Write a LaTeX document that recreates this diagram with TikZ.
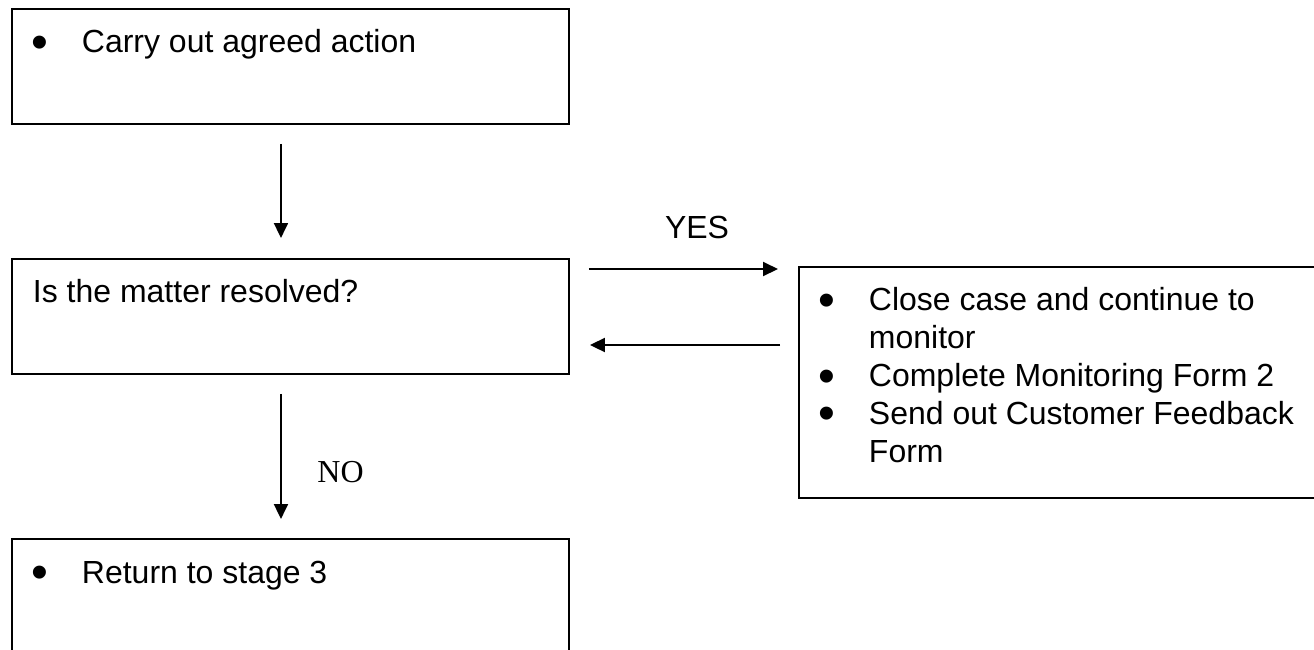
\documentclass[tikz,border=0pt]{standalone}
\usepackage{fontspec}
\setmainfont{Liberation Sans}
\newfontfamily\timesfont{Liberation Serif}
\usetikzlibrary{arrows.meta,positioning}

% box contents: fixed height, text from the top
\newcommand{\boxtext}[3]{\parbox[t][#1][t]{#2}{\fontsize{18.2}{21.6}\selectfont
  \leftskip=0.42cm\rightskip=0pt plus 1fil\parindent=0pt\vspace*{0.349cm}#3}}
\newcommand{\bigdot}{\makebox[0pt]{\smash{\raisebox{-0.16em}{\scalebox{1.5}{\textbullet}}}}}
\newcommand{\bitem}[1]{\hangindent=0.98cm\hangafter=1\noindent\strut
  \makebox[0.98cm][l]{\hspace{0.14cm}\bigdot}#1\par}

\begin{document}
\begin{tikzpicture}[
    stepbox/.style={draw,line width=1.1pt,inner sep=0pt,anchor=north west},
    answer/.style={inner sep=0pt,anchor=base,font=\fontsize{18.2}{21.6}\selectfont},
    arrow/.style={-{Triangle[length=0.3cm,width=0.28cm]},line width=1.1pt}
  ]
    \useasboundingbox (0,0) rectangle (26.28,-12.98);

    \node[stepbox] (carry) at (0.22,-0.16)
      {\boxtext{2.30cm}{11.14cm}{\bitem{Carry out agreed action}}};
    \node[stepbox] (resolved) at (0.22,-5.16)
      {\boxtext{2.30cm}{11.14cm}{\strut Is the matter resolved?\par}};
    \node[stepbox] (returnstage) at (0.22,-10.76)
      {\boxtext{2.30cm}{11.14cm}{\bitem{Return to stage 3}}};
    \node[stepbox] (closecase) at (15.96,-5.32)
      {\boxtext{4.62cm}{10.64cm}{%
        \bitem{Close case and continue to\newline monitor}
        \bitem{Complete Monitoring Form 2}
        \bitem{Send out Customer Feedback\newline Form}}};

    \node[answer] (yes) at (13.94,-4.76) {YES};
    \node[answer,font=\timesfont\fontsize{18.2}{21.6}\selectfont] (no) at (6.81,-9.64) {NO};

    \draw[arrow] ([shift={(-0.19,-0.38)}]carry.south)
      -- ([shift={(-0.19,0.40)}]resolved.north);
    \draw[arrow] ([shift={(-0.19,-0.38)}]resolved.south)
      -- ([shift={(-0.19,0.38)}]returnstage.north);
    \draw[arrow] ([shift={(0.38,-0.22)}]resolved.north east)
      -- ([shift={(-0.40,-0.06)}]closecase.north west);
    \draw[arrow] ([shift={(-0.36,-1.58)}]closecase.north west)
      -- ([shift={(0.40,-1.74)}]resolved.north east);
  \end{tikzpicture}
\end{document}
